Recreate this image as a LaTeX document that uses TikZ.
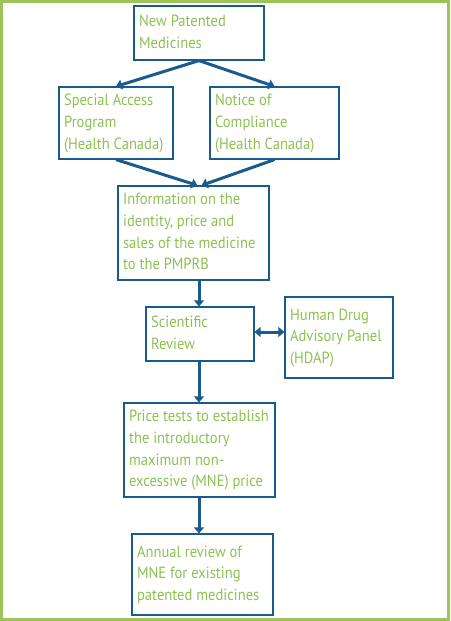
\documentclass[tikz,border=0pt]{standalone}
\usepackage{fontspec}
\usepackage{graphicx}
\setmainfont{PT Sans}
\usetikzlibrary{arrows.meta}
\definecolor{txtgreen}{HTML}{8CC152}
\definecolor{framegreen}{HTML}{9DC45A}
\definecolor{boxblue}{HTML}{1B5A8C}
\newcommand{\narrowlines}[1]{\scalebox{0.9}[1]{\begin{tabular}{@{}l@{}}#1\end{tabular}}}
\tikzset{
  box/.style={draw=boxblue, line width=1.2pt, rectangle, inner sep=0pt},
  txt/.style={anchor=west, inner sep=0pt, text=txtgreen, font=\fontsize{16.2}{21.7}\selectfont},
  conn/.style={draw=boxblue, line width=3pt, -{Triangle[length=6pt,width=10pt]}},
  biconn/.style={draw=boxblue, line width=3pt, {Triangle[length=6pt,width=10pt]}-{Triangle[length=6pt,width=10pt]}}
}
\begin{document}
\begin{tikzpicture}[x=1pt,y=-1pt]
\useasboundingbox (0,0) rectangle (450,621);
\draw[framegreen, line width=3pt] (1.5,1.5) rectangle (448.5,619.5);
\node[box, minimum width=130pt, minimum height=54pt] (n1) at (199,33) {};
\node[box, minimum width=114pt, minimum height=72pt] (n2) at (116,123) {};
\node[box, minimum width=129pt, minimum height=72pt] (n3) at (274.5,123) {};
\node[box, minimum width=151pt, minimum height=94pt] (n4) at (193.5,233) {};
\node[box, minimum width=108pt, minimum height=54pt] (n5) at (200,334) {};
\node[box, minimum width=108pt, minimum height=81pt] (n6) at (339,337.5) {};
\node[box, minimum width=151pt, minimum height=94pt] (n7) at (199.5,450) {};
\node[box, minimum width=141pt, minimum height=81pt] (n8) at (202.5,574.5) {};
\node[txt] (t1) at ([xshift=5.5pt]n1.west) {\narrowlines{New Patented\\Medicines}};
\node[txt] (t2) at ([xshift=5.5pt]n2.west) {\narrowlines{Special Access\\Program\\(Health Canada)}};
\node[txt] (t3) at ([xshift=5.5pt]n3.west) {\narrowlines{Notice of\\Compliance\\(Health Canada)}};
\node[txt] (t4) at ([xshift=5.5pt]n4.west) {\narrowlines{Information on the\\identity, price and\\sales of the medicine\\to the PMPRB}};
\node[txt] (t5) at ([xshift=5.5pt]n5.west) {\narrowlines{Scientific\\Review}};
\node[txt] (t6) at ([xshift=5.5pt]n6.west) {\narrowlines{Human Drug\\Advisory Panel\\(HDAP)}};
\node[txt] (t7) at ([xshift=5.5pt]n7.west) {\narrowlines{Price tests to establish\\the introductory\\maximum non-\\excessive (MNE) price}};
\node[txt] (t8) at ([xshift=5.5pt]n8.west) {\narrowlines{Annual review of\\MNE for existing\\patented medicines}};
\draw[conn] (n1.south) -- (n2.north);
\draw[conn] (n1.south) -- (n3.north);
\draw[conn] (n2.south) -- ([xshift=4pt]n4.north);
\draw[conn] (n3.south) -- ([xshift=8pt]n4.north);
\draw[conn] (n4.south -| n1.south) -- (n5.north -| n1.south);
\draw[biconn] ([yshift=2pt]n5.east) -- ([yshift=2pt]n5.east -| n6.west);
\draw[conn] (n5.south -| n1.south) -- (n7.north -| n1.south);
\draw[conn] (n7.south -| n1.south) -- (n8.north -| n1.south);
\end{tikzpicture}
\end{document}
